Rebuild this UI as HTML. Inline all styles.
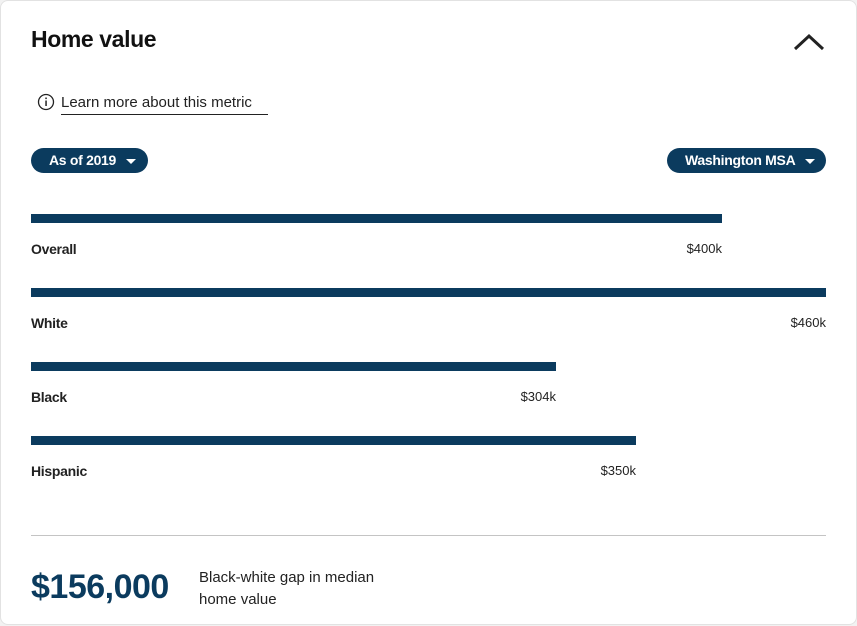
<!DOCTYPE html>
<html><head><style>
body{margin:0;width:857px;height:626px;background:#f2f2f2;font-family:"Liberation Sans",sans-serif;position:relative;overflow:hidden}
.card{position:absolute;left:0;top:0;width:855px;height:623px;background:#fff;border:1px solid #e2e2e2;border-radius:8px}
.a{position:absolute}
.bar{position:absolute;left:31px;height:9px;background:#0b3b5e}
.lab{position:absolute;left:31px;font-size:14px;font-weight:bold;color:#222;letter-spacing:-0.3px}
.val{position:absolute;font-size:13px;color:#222;text-align:right;width:80px;top:0}
.pill{position:absolute;height:25px;background:#0b3b5e;border-radius:13px;color:#fff;font-weight:bold;font-size:14px;line-height:25px;letter-spacing:-0.3px}
.tri{display:inline-block;width:0;height:0;border-left:5px solid transparent;border-right:5px solid transparent;border-top:5px solid #fff;vertical-align:middle;margin-left:10px}
</style></head><body>
<div class="card"></div>
<div class="a" style="left:31px;top:26px;font-size:23px;font-weight:bold;color:#111;letter-spacing:-0.4px">Home value</div>
<svg class="a" style="left:793px;top:32px" width="32" height="20"><polyline points="2,17 16,4 30,17" fill="none" stroke="#222" stroke-width="3"/></svg>
<svg class="a" style="left:37px;top:93px" width="18" height="18"><circle cx="9" cy="9" r="7.5" fill="none" stroke="#222" stroke-width="1.3"/><rect x="8.3" y="7.5" width="1.5" height="5.5" fill="#222"/><rect x="8.3" y="4.5" width="1.5" height="1.6" fill="#222"/></svg>
<div class="a" style="left:61px;top:94px;font-size:15px;color:#222;border-bottom:1px solid #222;padding-bottom:3px;width:207px">Learn more about this metric</div>
<div class="pill" style="left:31px;top:148px;width:117px;text-indent:18px">As of 2019<span class="tri"></span></div>
<div class="pill" style="left:667px;top:148px;width:159px;text-indent:18px">Washington MSA<span class="tri"></span></div>
<div class="bar" style="top:214px;width:691px"></div>
<div class="lab" style="top:241px">Overall</div><div class="val" style="left:642px;top:241px">$400k</div>
<div class="bar" style="top:288px;width:795px"></div>
<div class="lab" style="top:315px">White</div><div class="val" style="left:746px;top:315px">$460k</div>
<div class="bar" style="top:362px;width:525px"></div>
<div class="lab" style="top:389px">Black</div><div class="val" style="left:476px;top:389px">$304k</div>
<div class="bar" style="top:436px;width:605px"></div>
<div class="lab" style="top:463px">Hispanic</div><div class="val" style="left:556px;top:463px">$350k</div>
<div class="a" style="left:31px;top:535px;width:795px;height:1px;background:#c4c4c4"></div>
<div class="a" style="left:31px;top:568px;font-size:34px;font-weight:bold;color:#0b3b5e;letter-spacing:-0.5px">$156,000</div>
<div class="a" style="left:199px;top:567px;font-size:15px;color:#222;line-height:22px">Black-white gap in median<br>home value</div>
</body></html>
